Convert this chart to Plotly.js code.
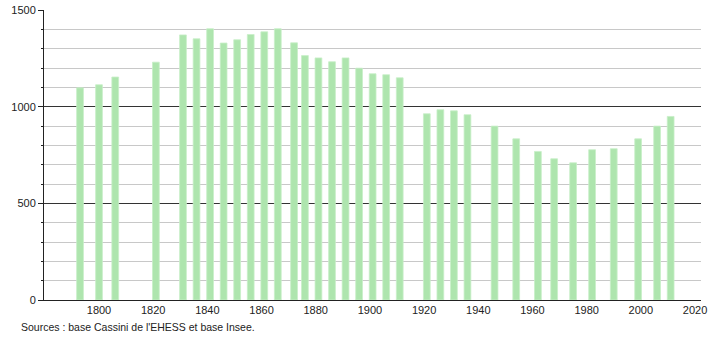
<!DOCTYPE html>
<html>
<head>
<meta charset="utf-8">
<script src="https://cdn.plot.ly/plotly-3.0.1.min.js"></script>
<style>html,body{margin:0;padding:0;background:#fff;}#chart{width:710px;height:340px;}</style>
</head>
<body>
<div id="chart"></div>
<script>
const years = [1793, 1800, 1806, 1821, 1831, 1836, 1841, 1846, 1851, 1856, 1861, 1866, 1872, 1876, 1881, 1886, 1891, 1896, 1901, 1906, 1911, 1921, 1926, 1931, 1936, 1946, 1954, 1962, 1968, 1975, 1982, 1990, 1999, 2006, 2011];
const population = [1098, 1114, 1154, 1231, 1372, 1352, 1404, 1330, 1347, 1374, 1388, 1404, 1331, 1265, 1253, 1233, 1253, 1200, 1171, 1166, 1150, 964, 985, 979, 959, 900, 834, 769, 731, 710, 778, 783, 834, 900, 950];
const xTicks = [1800, 1820, 1840, 1860, 1880, 1900, 1920, 1940, 1960, 1980, 2000, 2020];
const yTicks = [0, 500, 1000, 1500];
const sourceText = "Sources : base Cassini de l'EHESS et base Insee.";

const trace = {
  type: 'bar',
  x: years,
  y: population,
  width: 2.5,
  marker: {color: '#aee5ae', line: {width: 0.8, color: '#c8efc8'}},
  hoverinfo: 'x+y'
};

const layout = {
  width: 710, height: 340,
  margin: {l: 44, r: 9, t: 10, b: 40},
  paper_bgcolor: '#ffffff', plot_bgcolor: '#ffffff',
  font: {family: 'Liberation Sans, Arial, sans-serif', size: 11, color: '#222'},
  showlegend: false,
  bargap: 0,
  xaxis: {
    range: [1779.7, 2022.2],
    tickmode: 'array', tickvals: xTicks, ticktext: xTicks.map(String),
    showgrid: false, zeroline: false,
    showline: true, linecolor: '#222', linewidth: 1,
    ticks: '', tickfont: {size: 11, color: '#222'}
  },
  yaxis: {
    range: [0, 1501],
    tickmode: 'array', tickvals: yTicks, ticktext: yTicks.map(String),
    showgrid: true, gridcolor: '#333', gridwidth: 1,
    zeroline: false,
    showline: true, linecolor: '#222', linewidth: 1,
    ticks: 'outside', ticklen: 5, tickcolor: '#222',
    tickfont: {size: 11, color: '#222'},
    minor: {dtick: 100, tick0: 0, showgrid: true, gridcolor: '#c8c8c8', gridwidth: 1, ticks: 'outside', ticklen: 2, tickcolor: '#222'}
  },
  annotations: [{
    text: sourceText, xref: 'paper', yref: 'paper',
    x: -25/657, y: -27/290, xanchor: 'left', yanchor: 'middle',
    showarrow: false, font: {size: 10.5, color: '#222'}
  }]
};

Plotly.newPlot('chart', [trace], layout, {staticPlot: true, displayModeBar: false});
</script>
</body>
</html>
